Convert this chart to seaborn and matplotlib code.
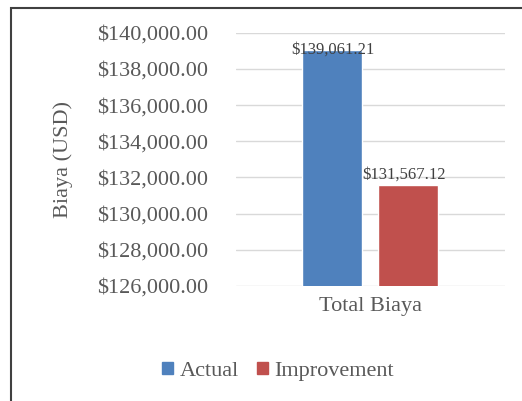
import pandas as pd
import matplotlib.pyplot as plt
import seaborn as sns
from matplotlib.patches import Rectangle

categories = ["Total Biaya"]
series = ["Actual", "Improvement"]
values = [139061.21, 131567.12]
colors = ["#4F81BD", "#C0504D"]
y_ticks = list(range(126000, 140001, 2000))

df = pd.DataFrame({"kategori": categories * len(series), "seri": series, "biaya": values})

sns.set_theme(style="white")
plt.rcParams["font.family"] = ["Liberation Serif", "DejaVu Serif"]
text_color = "#595959"

fig = plt.figure(figsize=(5.22, 4.01), dpi=100)
ax = fig.add_axes([0.452, 0.287, 0.515, 0.631])

sns.barplot(data=df, x="kategori", y="biaya", hue="seri", palette=colors,
            width=0.565, gap=0.21, saturation=1, legend=False, ax=ax)

ax.set_ylim(y_ticks[0], y_ticks[-1])
ax.set_xlim(-0.5, 0.5)
ax.set_yticks(y_ticks)
ax.set_yticklabels([f"${t:,.2f}" for t in y_ticks], fontsize=16, color=text_color)
ax.tick_params(axis="x", labelsize=16, labelcolor=text_color, length=0, pad=8)
ax.tick_params(axis="y", length=0, pad=20)
ax.grid(axis="y", color="#D9D9D9", linewidth=1)
ax.set_axisbelow(True)
for s in ax.spines.values():
    s.set_visible(False)
ax.set_xlabel("")
ax.set_ylabel("Biaya (USD)", fontsize=16, color=text_color, labelpad=17)

# data labels
for cont in ax.containers:
    for bar in cont:
        v = bar.get_height() + bar.get_y()
        x = bar.get_x() + bar.get_width() / 2
        if v + 1200 > y_ticks[-1]:
            ax.text(x, v, f"${v:,.2f}", ha="center", va="center", fontsize=12, color="#404040")
        else:
            ax.annotate(f"${v:,.2f}", (x, v), xytext=(-3, 2), textcoords="offset points",
                        ha="center", va="bottom", fontsize=12, color="#404040")

handles = [Rectangle((0, 0), 1, 1, color=c) for c in colors]
fig.legend(handles, series, loc="center", bbox_to_anchor=(0.533, 0.074), ncol=2,
           frameon=False, fontsize=16, handlelength=0.5, handleheight=0.5,
           handletextpad=0.3, columnspacing=0.8, labelcolor=text_color)

# chart frame (cropped on right and bottom)
fig.add_artist(Rectangle((11 / 522, -0.2), 1.2, 1.2 - 8 / 401, transform=fig.transFigure,
                         fill=False, edgecolor="#404040", linewidth=1.5))

fig.savefig("out.png", dpi=100)
plt.close(fig)
